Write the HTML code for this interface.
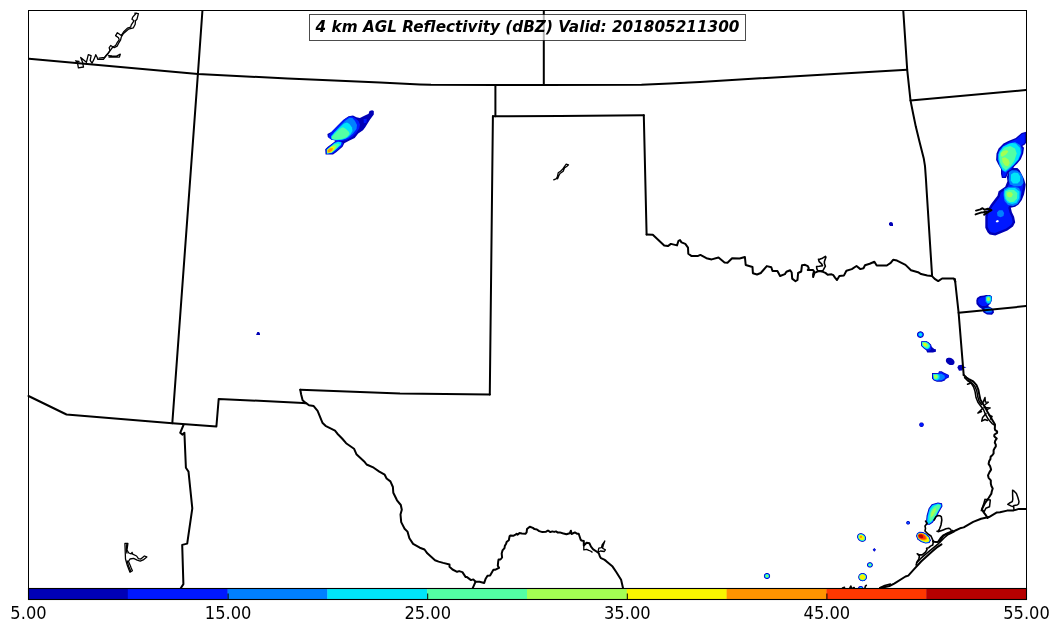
<!DOCTYPE html>
<html><head><meta charset="utf-8"><title>4 km AGL Reflectivity</title>
<style>html,body{margin:0;padding:0;background:#fff;overflow:hidden}svg{display:block}</style>
</head><body>
<svg width="1060" height="633" viewBox="0 0 1060 633">
<rect width="1060" height="633" fill="#fff"/>
<g id="radar">
<path d="M372.1,110.2 369.5,111.1 368.6,113.7 363.4,116.3 359.9,118.0 356.5,117.2 353.0,115.4 348.6,116.3 343.4,119.8 337.4,125.8 331.3,131.9 327.4,134.1 327.8,137.1 331.3,139.7 335.6,140.6 333.9,142.3 327.8,146.7 325.2,149.3 325.6,154.5 333.0,154.5 336.5,151.9 342.6,146.7 344.3,143.2 349.5,140.6 354.7,138.0 358.2,133.6 363.0,130.2 365.1,127.6 368.2,122.4 369.9,119.8 373.8,114.5 373.8,111.1Z" fill="#0000b6" fill-rule="evenodd"/>
<path d="M335.4,141.2 336.6,141.2 334.1,142.4 333.5,142.9 329.0,146.5 326.0,149.5 326.5,154.0 333.0,153.5 337.0,150.5 342.0,146.0 343.0,143.0 341.0,141.5 338.6,141.2 341.0,141.2 346.5,140.0 352.0,137.0 356.5,132.5 359.2,128.5 360.0,124.5 358.5,121.0 355.0,118.0 352.0,116.3 348.5,116.8 343.6,120.0 329.0,134.5 328.4,137.2 331.4,139.5 335.7,140.4 335.8,140.7ZM363.8,123.2 366.5,122.8 366.8,118.8 363.6,119.0Z" fill="#0018ff" fill-rule="evenodd"/>
<path d="M331.5,139.3 336.0,140.3 343.0,139.8 348.5,137.5 353.0,133.5 356.5,129.0 357.0,125.0 355.0,121.0 352.5,118.0 349.5,117.8 345.5,120.5 340.5,125.5 331.0,136.0Z" fill="#0080ff" fill-rule="evenodd"/>
<path d="M345.8,138.4 350.0,135.0 352.5,131.0 352.0,127.5 349.5,124.0 347.0,122.5 344.0,123.5 339.5,127.5 334.5,132.5 331.3,136.5 331.7,139.1 336.0,140.0 341.1,139.7Z" fill="#00e4f8" fill-rule="evenodd"/>
<path d="M342.0,139.0 347.0,137.0 349.5,134.0 349.0,132.0 346.0,129.0 343.0,127.2 341.0,128.0 337.0,131.5 333.0,135.5 331.7,137.1 331.9,138.9 336.0,139.8Z" fill="#53ffa4" fill-rule="evenodd"/>
<path d="M326.8,153.7 332.0,152.8 336.0,149.5 341.0,145.0 341.5,142.2 338.0,141.8 334.5,143.0 330.0,147.0 326.8,149.5Z" fill="#00e4f8" fill-rule="evenodd"/>
<path d="M336.0,148.8 339.8,144.5 338.0,143.5 334.5,144.2 331.3,146.2 327.1,149.6 327.1,153.4 331.7,152.6Z" fill="#53ffa4" fill-rule="evenodd"/>
<path d="M335.0,149.0 336.5,145.8 333.5,145.6 332.0,146.1 327.3,149.7 327.3,153.1 331.5,152.4Z" fill="#a4ff53" fill-rule="evenodd"/>
<path d="M334.8,147.4 332.0,146.8 331.2,147.0 327.6,149.9 327.6,152.8 331.4,152.1 333.8,149.8Z" fill="#f8f500" fill-rule="evenodd"/>
<path d="M332.2,150.5 333.0,148.3 330.1,148.2 327.8,150.0 327.8,152.5 330.0,152.1Z" fill="#ff9400" fill-rule="evenodd"/>
<path d="M256.1,335.0 260.0,335.0 260.0,333.5 259.0,332.0 257.3,332.0Z" fill="#0000b6" fill-rule="evenodd"/>
<path d="M889.0,223.0 889.0,224.5 890.0,226.0 893.0,226.0 893.0,223.5 892.0,222.3 890.5,221.9Z" fill="#0000b6" fill-rule="evenodd"/>
<path d="M1021.6,132.9 1015.8,137.9 1008.4,141.1 1003.5,143.6 998.6,148.5 996.5,153.5 996.1,160.0 998.2,164.2 1001.0,169.1 1001.0,174.0 1001.9,178.1 1006.0,178.1 1008.4,172.4 1008.5,172.4 1008.5,172.4 1006.9,176.8 1007.4,181.3 1005.2,186.8 1001.9,189.0 998.6,191.2 997.5,195.7 994.2,200.1 990.8,204.5 987.5,210.0 985.3,215.6 985.3,227.7 987.5,232.2 989.7,234.4 995.3,235.5 1000.8,233.3 1007.4,230.5 1013.0,226.6 1015.2,222.2 1014.1,216.7 1011.9,212.2 1010.8,207.8 1015.2,206.7 1018.5,204.5 1021.8,200.1 1024.0,194.5 1025.1,189.0 1025.7,184.6 1024.0,179.1 1021.8,174.6 1019.6,170.2 1017.4,168.0 1013.3,168.0 1014.2,166.6 1017.5,163.3 1020.8,159.2 1023.2,153.5 1024.0,147.7 1022.4,146.1 1024.9,144.4 1026.1,142.8 1026.1,131.7Z" fill="#0000b6" fill-rule="evenodd"/>
<path d="M1016.6,138.9 1009.0,142.3 1004.3,144.7 999.7,149.2 997.8,153.8 997.4,159.7 999.3,163.6 1002.2,168.7 1002.3,173.9 1002.9,176.8 1005.1,176.8 1007.4,171.6 1007.8,171.2 1010.8,169.7 1013.2,165.8 1016.5,162.4 1019.7,158.5 1021.9,153.2 1022.6,148.2 1021.3,146.8 1021.1,146.4 1021.2,145.7 1021.6,145.1 1024.0,143.4 1024.8,142.4 1024.8,133.4 1022.2,134.1ZM1010.9,172.1 1010.8,173.0 1009.3,177.1 1009.8,181.0 1009.8,181.7 1007.3,187.9 1006.5,188.8 1000.7,192.7 999.8,196.3 999.6,196.9 992.8,205.9 989.7,211.1 987.7,216.1 987.7,227.1 989.5,230.8 990.9,232.2 995.1,233.0 1006.2,228.4 1011.1,225.0 1012.7,221.9 1011.8,217.5 1009.6,212.8 1008.4,208.2 1008.5,207.2 1008.9,206.4 1009.6,205.7 1010.2,205.5 1014.2,204.5 1016.8,202.7 1019.7,198.9 1021.7,193.8 1022.7,188.6 1023.3,184.8 1021.8,180.0 1017.6,171.6 1016.4,170.4 1010.5,170.4Z" fill="#0018ff" fill-rule="evenodd"/>
<path d="M999.0,152.0 998.2,155.0 998.2,160.0 999.5,166.0 1002.5,170.5 1005.5,172.5 1009.0,169.5 1014.0,164.8 1018.5,159.5 1021.0,154.0 1021.5,149.0 1020.0,145.0 1015.0,142.0 1009.0,143.5 1003.0,146.5Z" fill="#0080ff" fill-rule="evenodd"/>
<path d="M999.7,151.4 998.6,154.5 998.6,159.2 1000.2,165.0 1002.7,169.9 1005.1,171.5 1008.4,169.1 1013.4,165.0 1018.3,159.2 1020.8,152.7 1019.9,147.7 1015.8,143.6 1012.1,143.0 1009.1,143.7 1003.2,146.7Z" fill="#00e4f8" fill-rule="evenodd"/>
<path d="M999.4,156.8 1000.2,162.5 1002.7,167.4 1005.9,169.9 1010.1,166.6 1014.2,160.9 1016.7,153.5 1015.0,148.5 1010.1,146.1 1004.3,147.7 1000.2,152.7Z" fill="#53ffa4" fill-rule="evenodd"/>
<path d="M1001.0,156.0 1002.5,156.8 1006.0,154.5 1008.4,151.5 1007.0,150.2 1003.5,150.8 1001.0,153.0ZM1002.5,162.0 1005.0,165.5 1008.0,166.3 1009.7,163.0 1008.5,159.5 1005.0,157.3 1002.0,158.0Z" fill="#a4ff53" fill-rule="evenodd"/>
<path d="M1009.0,172.0 1009.0,175.5 1008.6,180.0 1010.0,184.5 1015.0,186.5 1021.0,186.0 1023.5,183.0 1023.0,178.0 1021.0,173.5 1017.0,170.5 1012.0,170.3Z" fill="#0080ff" fill-rule="evenodd"/>
<path d="M1010.8,180.5 1013.0,183.5 1017.5,183.5 1020.0,181.0 1020.2,176.5 1018.0,173.0 1014.0,172.5 1011.0,174.5Z" fill="#00e4f8" fill-rule="evenodd"/>
<path d="M1004.0,189.0 1003.5,195.0 1004.5,201.0 1008.0,205.0 1013.0,206.0 1017.5,204.0 1020.5,199.0 1021.0,192.0 1019.0,188.0 1014.0,186.5 1008.0,187.0Z" fill="#0080ff" fill-rule="evenodd"/>
<path d="M1004.2,194.0 1004.8,198.5 1007.5,202.5 1012.0,204.0 1016.5,202.8 1019.3,198.0 1019.5,191.5 1015.0,188.0 1009.0,188.0 1004.6,190.5Z" fill="#00e4f8" fill-rule="evenodd"/>
<path d="M1005.3,196.0 1006.8,200.0 1010.0,202.3 1014.0,201.8 1017.0,198.5 1017.4,193.0 1014.0,190.0 1009.0,189.8 1005.4,191.5Z" fill="#53ffa4" fill-rule="evenodd"/>
<path d="M1006.8,195.0 1007.8,196.8 1009.8,197.6 1011.8,196.8 1012.8,194.5 1011.8,192.4 1009.3,191.8 1006.8,192.8Z" fill="#a4ff53" fill-rule="evenodd"/>
<path d="M997.0,212.5 997.5,216.0 1000.5,217.2 1003.5,216.0 1004.1,213.0 1002.5,210.3 999.0,210.2Z" fill="#0080ff" fill-rule="evenodd"/>
<path d="M995.8,221 L997.5,220 L999.1,221 L998,222.2 L996,222.2Z" fill="#fff"/>
<path d="M977.0,298.0 976.3,300.5 976.5,304.0 979.0,307.0 982.0,309.0 983.5,312.5 987.0,314.5 992.0,314.7 994.0,312.5 993.5,309.5 991.0,307.5 988.0,306.0 990.5,303.5 992.0,300.0 992.0,296.5 990.0,295.0 986.0,295.0 984.0,295.5 980.0,296.0Z" fill="#0000b6" fill-rule="evenodd"/>
<path d="M978.0,301.5 979.0,304.0 982.0,306.0 985.5,306.0 988.0,304.5 990.5,301.0 990.5,297.5 988.0,296.5 981.0,297.5 978.5,299.0ZM984.5,311.5 987.5,313.2 991.0,313.5 992.5,311.5 991.5,309.0 988.0,307.5 984.0,309.0Z" fill="#0018ff" fill-rule="evenodd"/>
<path d="M985.5,296.5 985.5,301.5 987.5,304.0 990.5,303.5 991.8,300.0 991.5,296.0 988.0,295.5Z" fill="#0080ff" fill-rule="evenodd"/>
<path d="M986.0,300.5 987.5,303.0 989.8,302.8 991.2,300.0 991.0,296.8 988.5,296.0 986.0,297.0Z" fill="#00e4f8" fill-rule="evenodd"/>
<path d="M990.4,299.0 990.2,298.2 989.7,297.5 989.1,297.1 988.3,297.0 987.6,297.3 987.0,297.8 986.6,298.8 986.6,299.6 986.9,300.4 987.4,301.0 987.9,301.3 988.7,301.4 989.4,301.1 990.0,300.6 990.3,299.8Z" fill="#53ffa4" fill-rule="evenodd"/>
<path d="M989.9,298.8 989.7,298.2 989.4,297.7 988.9,297.4 988.2,297.3 987.7,297.6 987.3,298.1 987.1,298.7 987.2,299.5 987.4,300.1 987.8,300.5 988.4,300.7 988.8,300.7 989.2,300.5 989.6,300.1 989.8,299.5Z" fill="#a4ff53" fill-rule="evenodd"/>
<path d="M984.5,308.3 985.0,310.5 986.0,312.5 991.5,312.3 992.0,309.5 990.5,307.8Z" fill="#0080ff" fill-rule="evenodd"/>
<path d="M923.8,334.6 923.8,334.3 923.7,334.0 923.7,333.6 923.5,333.3 923.4,333.0 923.2,332.8 923.0,332.5 922.8,332.3 922.6,332.0 922.3,331.9 922.0,331.7 921.7,331.6 921.4,331.4 921.1,331.4 920.7,331.3 920.4,331.3 920.1,331.3 919.7,331.4 919.4,331.4 919.1,331.6 918.8,331.7 918.5,331.9 918.2,332.0 918.0,332.3 917.8,332.5 917.6,332.8 917.4,333.0 917.3,333.3 917.1,333.6 917.1,334.0 917.0,334.3 917.0,334.6 917.0,334.9 917.1,335.2 917.1,335.6 917.3,335.9 917.4,336.2 917.6,336.4 917.8,336.7 918.0,336.9 918.2,337.2 918.5,337.3 918.8,337.5 919.1,337.6 919.4,337.8 919.7,337.8 920.1,337.9 920.4,337.9 920.7,337.9 921.1,337.8 921.4,337.8 921.7,337.6 922.0,337.5 922.3,337.3 922.6,337.2 922.8,336.9 923.0,336.7 923.2,336.4 923.4,336.2 923.5,335.9 923.7,335.6 923.7,335.2 923.8,334.9Z" fill="#0000b6" fill-rule="evenodd"/>
<path d="M923.2,334.3 922.9,333.3 922.2,332.5 921.2,332.0 920.1,331.9 919.1,332.2 918.2,332.9 917.7,333.8 917.6,334.9 917.9,335.9 918.6,336.7 919.6,337.2 920.7,337.3 921.7,337.0 922.6,336.3 923.1,335.4Z" fill="#0018ff" fill-rule="evenodd"/>
<path d="M922.6,334.4 922.3,333.6 921.8,333.0 921.0,332.6 920.2,332.5 919.4,332.8 918.7,333.3 918.3,334.0 918.2,334.8 918.5,335.6 919.0,336.2 919.8,336.6 920.6,336.7 921.4,336.4 922.1,335.9 922.5,335.2Z" fill="#0080ff" fill-rule="evenodd"/>
<path d="M922.1,334.4 921.9,333.9 921.5,333.4 920.9,333.1 920.2,333.0 919.6,333.2 919.1,333.6 918.8,334.1 918.7,334.8 918.9,335.3 919.3,335.8 919.9,336.1 920.6,336.2 921.2,336.0 921.7,335.6 922.0,335.1Z" fill="#00e4f8" fill-rule="evenodd"/>
<path d="M921.2,341.3 921.0,343.6 921.2,346.0 923.8,348.4 926.2,350.3 927.2,352.6 932.9,352.6 935.9,351.7 935.9,349.3 934.3,348.9 931.9,347.0 931.0,344.6 928.6,342.2 926.2,341.0Z" fill="#0000b6" fill-rule="evenodd"/>
<path d="M921.6,345.6 924.0,348.0 926.8,350.0 928.5,351.0 931.0,349.8 931.2,347.3 930.5,345.0 928.4,342.8 926.0,341.5 921.5,341.8Z" fill="#0018ff" fill-rule="evenodd"/>
<path d="M922.0,345.6 924.5,348.0 927.0,349.3 929.5,348.3 930.2,345.5 929.1,343.9 928.2,343.0 925.9,341.8 921.8,342.0Z" fill="#00e4f8" fill-rule="evenodd"/>
<path d="M923.2,346.2 925.8,347.8 928.0,348.0 929.2,346.0 928.0,343.6 925.5,342.2 922.0,342.4Z" fill="#53ffa4" fill-rule="evenodd"/>
<path d="M923.8,345.6 926.0,347.0 927.8,346.3 927.3,344.2 925.3,342.8 922.4,342.8Z" fill="#a4ff53" fill-rule="evenodd"/>
<path d="M926.3,344.5 925.9,343.7 925.4,343.4 924.9,343.3 924.0,343.6 923.7,344.0 923.5,344.5 924.0,345.4 924.9,345.9 925.4,345.8 926.0,345.4 926.2,345.0Z" fill="#f8f500" fill-rule="evenodd"/>
<path d="M954.2,363.7 954.3,363.4 954.4,363.1 954.5,362.7 954.5,362.4 954.5,362.0 954.5,361.7 954.4,361.3 954.2,360.9 954.0,360.6 953.8,360.2 953.6,359.9 953.3,359.6 953.0,359.2 952.6,359.0 952.3,358.7 951.9,358.5 951.5,358.2 951.1,358.1 950.7,357.9 950.2,357.8 949.8,357.7 949.4,357.7 949.0,357.7 948.6,357.7 948.2,357.8 947.8,357.9 947.5,358.0 947.2,358.1 946.9,358.3 946.6,358.6 946.4,358.8 946.2,359.1 946.1,359.4 946.0,359.7 945.9,360.1 945.9,360.4 945.9,360.8 945.9,361.1 946.0,361.5 946.2,361.9 946.4,362.2 946.6,362.6 946.8,362.9 947.1,363.2 947.4,363.6 947.8,363.8 948.1,364.1 948.5,364.3 948.9,364.6 949.3,364.7 949.7,364.9 950.2,365.0 950.6,365.1 951.0,365.1 951.4,365.1 951.8,365.1 952.2,365.0 952.6,364.9 952.9,364.8 953.2,364.7 953.5,364.5 953.8,364.2 954.0,364.0Z" fill="#0000b6" fill-rule="evenodd"/>
<path d="M957.3,367.5 959.0,370.8 962.0,370.5 963.5,368.2 966.5,367.2 963.5,366.5 961.5,364.8 958.5,365.3Z" fill="#0000b6" fill-rule="evenodd"/>
<path d="M932.0,373.1 932.0,378.6 933.8,380.4 937.0,381.7 941.6,381.7 944.8,380.4 945.8,379.1 948.9,377.5 948.9,374.9 946.9,373.9 943.7,372.6 941.6,371.3 939.0,371.3 938.3,372.9Z" fill="#0000b6" fill-rule="evenodd"/>
<path d="M932.6,378.4 934.1,379.9 937.1,381.1 941.5,381.1 944.4,379.9 945.4,378.6 948.3,377.1 948.3,375.3 946.7,374.4 943.5,373.2 941.4,371.9 939.4,371.9 938.8,373.2 938.4,373.5 932.6,373.7Z" fill="#0018ff" fill-rule="evenodd"/>
<path d="M933.4,378.8 934.3,379.7 937.0,380.6 942.0,380.0 945.0,378.0 944.5,375.5 941.5,373.8 932.9,374.0Z" fill="#0080ff" fill-rule="evenodd"/>
<path d="M937.0,380.3 939.5,378.5 939.5,375.5 937.7,374.1 933.1,374.2 933.7,378.7 934.4,379.5Z" fill="#00e4f8" fill-rule="evenodd"/>
<path d="M933.5,374.6 934.0,378.7 935.5,379.3 938.0,378.3 938.3,376.0 937.0,374.5Z" fill="#53ffa4" fill-rule="evenodd"/>
<path d="M933.8,375.0 934.1,377.9 934.8,378.6 936.8,378.2 937.3,376.5 936.5,375.0Z" fill="#a4ff53" fill-rule="evenodd"/>
<path d="M923.8,424.7 923.8,424.5 923.8,424.3 923.7,424.0 923.6,423.8 923.5,423.6 923.4,423.4 923.3,423.2 923.1,423.1 923.0,422.9 922.8,422.8 922.6,422.7 922.4,422.6 922.2,422.5 921.9,422.4 921.7,422.4 921.5,422.4 921.3,422.4 921.1,422.4 920.8,422.5 920.6,422.6 920.4,422.7 920.2,422.8 920.0,422.9 919.9,423.1 919.7,423.2 919.6,423.4 919.5,423.6 919.4,423.8 919.3,424.0 919.2,424.3 919.2,424.5 919.2,424.7 919.2,424.9 919.2,425.1 919.3,425.4 919.4,425.6 919.5,425.8 919.6,426.0 919.7,426.2 919.9,426.3 920.0,426.5 920.2,426.6 920.4,426.7 920.6,426.8 920.8,426.9 921.1,427.0 921.3,427.0 921.5,427.0 921.7,427.0 921.9,427.0 922.2,426.9 922.4,426.8 922.6,426.7 922.8,426.6 923.0,426.5 923.1,426.3 923.3,426.2 923.4,426.0 923.5,425.8 923.6,425.6 923.7,425.4 923.8,425.1 923.8,424.9Z" fill="#0000b6" fill-rule="evenodd"/>
<path d="M923.3,424.5 923.1,423.9 922.6,423.3 922.0,423.0 921.3,422.9 920.7,423.1 920.1,423.6 919.8,424.2 919.7,424.9 919.9,425.5 920.4,426.1 921.0,426.4 921.7,426.5 922.3,426.3 922.9,425.8 923.2,425.2Z" fill="#0018ff" fill-rule="evenodd"/>
<path d="M910.0,522.8 910.0,522.6 910.0,522.4 909.9,522.3 909.9,522.1 909.8,522.0 909.7,521.8 909.6,521.7 909.4,521.5 909.3,521.4 909.2,521.3 909.0,521.2 908.8,521.1 908.7,521.1 908.5,521.0 908.3,521.0 908.1,521.0 907.9,521.0 907.7,521.0 907.5,521.1 907.4,521.1 907.2,521.2 907.0,521.3 906.9,521.4 906.8,521.5 906.6,521.7 906.5,521.8 906.4,522.0 906.3,522.1 906.3,522.3 906.2,522.4 906.2,522.6 906.2,522.8 906.2,523.0 906.2,523.2 906.3,523.3 906.3,523.5 906.4,523.6 906.5,523.8 906.6,523.9 906.8,524.1 906.9,524.2 907.0,524.3 907.2,524.4 907.4,524.5 907.5,524.5 907.7,524.6 907.9,524.6 908.1,524.6 908.3,524.6 908.5,524.6 908.7,524.5 908.8,524.5 909.0,524.4 909.2,524.3 909.3,524.2 909.4,524.1 909.6,523.9 909.7,523.8 909.8,523.6 909.9,523.5 909.9,523.3 910.0,523.2 910.0,523.0Z" fill="#0000b6" fill-rule="evenodd"/>
<path d="M909.5,522.7 909.3,522.2 909.0,521.8 908.5,521.6 908.0,521.5 907.4,521.7 907.0,522.0 906.8,522.4 906.7,522.9 906.9,523.4 907.2,523.8 907.7,524.0 908.2,524.1 908.8,523.9 909.2,523.6 909.4,523.2Z" fill="#0018ff" fill-rule="evenodd"/>
<path d="M908.9,522.7 908.6,522.3 908.0,522.1 907.5,522.4 907.3,522.9 907.6,523.3 908.2,523.5 908.7,523.2Z" fill="#0080ff" fill-rule="evenodd"/>
<path d="M942.0,503.2 937.9,502.4 931.7,504.2 928.6,508.4 926.6,515.6 926.1,520.7 925.6,523.3 927.1,524.8 929.7,524.8 932.7,522.7 935.8,518.6 938.9,512.5 942.5,506.3Z" fill="#0000b6" fill-rule="evenodd"/>
<path d="M937.9,503.0 932.1,504.7 929.1,508.7 927.2,515.7 926.7,520.8 926.2,523.1 927.3,524.2 929.5,524.2 932.3,522.3 935.3,518.3 938.4,512.2 941.9,506.2 941.5,503.7Z" fill="#0018ff" fill-rule="evenodd"/>
<path d="M937.9,503.4 932.3,505.1 929.5,508.8 927.6,515.8 927.1,520.8 926.7,523.0 927.5,523.8 929.4,523.8 932.0,522.0 934.9,518.1 938.0,512.0 941.5,506.1 941.1,504.0Z" fill="#0080ff" fill-rule="evenodd"/>
<path d="M938.0,503.8 932.5,505.4 929.9,509.0 928.0,515.9 927.5,520.8 927.1,522.8 927.7,523.4 929.3,523.4 931.7,521.7 934.6,517.9 937.7,511.9 941.0,506.0 940.8,504.4Z" fill="#00e4f8" fill-rule="evenodd"/>
<path d="M930.5,521.8 933.0,519.2 935.1,516.3 937.4,511.8 939.8,507.7 940.6,505.2 938.0,504.6 934.0,506.5 931.2,510.0 929.6,515.0 929.3,520.5Z" fill="#53ffa4" fill-rule="evenodd"/>
<path d="M933.2,515.5 935.6,511.0 936.0,507.8 933.4,509.3 931.4,512.5 930.6,517.5Z" fill="#a4ff53" fill-rule="evenodd"/>
<path d="M916.0,536.0 917.5,539.5 921.0,542.0 925.5,543.6 929.5,543.0 930.8,540.2 929.5,536.8 926.5,533.8 923.0,532.0 919.5,531.8 917.0,533.2Z" fill="#0000b6" fill-rule="evenodd"/>
<path d="M917.9,539.2 921.2,541.6 925.5,543.1 929.2,542.5 930.3,540.2 929.1,537.1 926.2,534.2 922.9,532.5 919.6,532.3 917.4,533.5 916.5,536.0Z" fill="#0018ff" fill-rule="evenodd"/>
<path d="M918.2,538.9 921.4,541.2 925.6,542.7 928.9,542.2 929.8,540.2 928.7,537.3 926.0,534.5 922.8,532.9 919.7,532.7 917.7,533.8 917.0,536.0Z" fill="#00e4f8" fill-rule="evenodd"/>
<path d="M918.6,538.7 921.6,540.8 925.6,542.3 928.6,541.8 929.4,540.2 928.4,537.5 925.7,534.9 922.7,533.3 919.8,533.1 918.1,534.1 917.4,536.0Z" fill="#f8f500" fill-rule="evenodd"/>
<path d="M921.5,540.0 925.0,540.5 927.2,539.0 926.5,536.5 924.5,534.5 922.6,533.5 919.9,533.4 918.3,534.3 917.7,535.9 918.7,538.4Z" fill="#ff9400" fill-rule="evenodd"/>
<path d="M921.0,539.0 924.0,539.6 925.8,538.8 925.6,536.8 923.5,534.5 921.3,533.7 919.8,533.7 918.5,534.4 917.9,535.9 918.7,537.8Z" fill="#ff3800" fill-rule="evenodd"/>
<path d="M919.3,537.2 921.5,538.3 923.2,537.8 923.0,535.8 921.5,534.5 919.5,534.4 918.5,535.2 918.4,535.4Z" fill="#b60000" fill-rule="evenodd"/>
<path d="M770.1,576.0 770.1,575.7 770.0,575.4 770.0,575.1 769.9,574.9 769.7,574.6 769.6,574.3 769.4,574.1 769.2,573.9 769.0,573.7 768.7,573.5 768.5,573.4 768.2,573.2 767.9,573.1 767.6,573.1 767.3,573.0 767.0,573.0 766.7,573.0 766.4,573.1 766.1,573.1 765.8,573.2 765.5,573.4 765.3,573.5 765.0,573.7 764.8,573.9 764.6,574.1 764.4,574.3 764.3,574.6 764.1,574.9 764.0,575.1 764.0,575.4 763.9,575.7 763.9,576.0 763.9,576.3 764.0,576.6 764.0,576.9 764.1,577.1 764.3,577.4 764.4,577.7 764.6,577.9 764.8,578.1 765.0,578.3 765.3,578.5 765.5,578.6 765.8,578.8 766.1,578.9 766.4,578.9 766.7,579.0 767.0,579.0 767.3,579.0 767.6,578.9 767.9,578.9 768.2,578.8 768.5,578.6 768.7,578.5 769.0,578.3 769.2,578.1 769.4,577.9 769.6,577.7 769.7,577.4 769.9,577.1 770.0,576.9 770.0,576.6 770.1,576.3Z" fill="#0000b6" fill-rule="evenodd"/>
<path d="M769.6,575.8 769.3,574.8 768.7,574.1 767.8,573.6 766.7,573.5 765.8,573.8 765.0,574.4 764.5,575.3 764.4,576.2 764.7,577.2 765.3,577.9 766.2,578.4 767.3,578.5 768.2,578.2 769.0,577.6 769.5,576.7Z" fill="#0018ff" fill-rule="evenodd"/>
<path d="M769.2,575.8 768.9,575.0 768.4,574.4 767.6,574.0 766.8,573.9 766.0,574.2 765.3,574.7 764.9,575.4 764.8,576.2 765.1,577.0 765.6,577.6 766.4,578.0 767.2,578.1 768.0,577.8 768.7,577.3 769.1,576.6Z" fill="#00e4f8" fill-rule="evenodd"/>
<path d="M768.6,575.9 768.4,575.3 768.0,574.9 767.5,574.6 766.8,574.5 766.2,574.7 765.7,575.1 765.5,575.6 765.4,576.1 765.6,576.7 766.0,577.1 766.5,577.4 767.2,577.5 767.8,577.3 768.3,576.9 768.5,576.4Z" fill="#53ffa4" fill-rule="evenodd"/>
<path d="M768.0,575.9 767.7,575.3 766.9,575.1 766.2,575.5 766.0,576.1 766.3,576.7 767.1,576.9 767.8,576.5Z" fill="#a4ff53" fill-rule="evenodd"/>
<path d="M865.3,540.6 865.5,540.3 865.7,539.9 865.8,539.6 866.0,539.2 866.0,538.8 866.1,538.4 866.0,538.0 866.0,537.6 865.9,537.1 865.7,536.7 865.5,536.3 865.3,535.9 865.1,535.5 864.8,535.2 864.5,534.8 864.1,534.5 863.7,534.2 863.3,534.0 862.9,533.7 862.5,533.6 862.1,533.4 861.6,533.3 861.2,533.2 860.8,533.2 860.3,533.2 859.9,533.3 859.5,533.4 859.2,533.5 858.8,533.7 858.5,533.9 858.2,534.1 857.9,534.4 857.7,534.7 857.5,535.1 857.4,535.4 857.2,535.8 857.2,536.2 857.1,536.6 857.2,537.0 857.2,537.4 857.3,537.9 857.5,538.3 857.7,538.7 857.9,539.1 858.1,539.5 858.4,539.8 858.7,540.2 859.1,540.5 859.5,540.8 859.9,541.0 860.3,541.3 860.7,541.4 861.1,541.6 861.6,541.7 862.0,541.8 862.4,541.8 862.9,541.8 863.3,541.7 863.7,541.6 864.0,541.5 864.4,541.3 864.7,541.1 865.0,540.9Z" fill="#0000b6" fill-rule="evenodd"/>
<path d="M865.2,540.1 865.6,538.8 865.5,537.3 864.7,535.8 863.8,534.8 862.4,533.9 860.8,533.6 859.3,533.9 858.7,534.2 858.2,534.7 857.9,535.2 857.6,535.9 857.6,537.4 858.2,538.9 859.4,540.2 860.8,541.1 862.4,541.4 863.9,541.1 864.5,540.8Z" fill="#0018ff" fill-rule="evenodd"/>
<path d="M864.8,539.8 865.2,538.7 865.1,537.4 864.4,536.0 863.6,535.1 862.2,534.3 860.8,534.0 859.5,534.2 858.5,534.9 858.0,536.0 858.0,537.3 858.6,538.7 859.6,539.9 861.0,540.7 862.4,541.0 863.7,540.8 864.2,540.5Z" fill="#00e4f8" fill-rule="evenodd"/>
<path d="M864.5,539.6 864.8,538.7 864.7,537.5 864.1,536.2 863.3,535.4 862.1,534.7 860.8,534.4 859.6,534.6 858.8,535.2 858.4,536.1 858.4,537.2 858.9,538.5 859.9,539.6 861.1,540.3 862.4,540.6 863.6,540.4 864.0,540.1Z" fill="#53ffa4" fill-rule="evenodd"/>
<path d="M864.2,539.4 864.4,538.6 864.3,537.6 863.8,536.5 863.1,535.7 862.2,535.2 861.0,534.8 860.0,534.9 859.2,535.4 858.8,536.4 858.9,537.4 859.4,538.5 860.1,539.3 861.3,539.9 862.5,540.2 863.4,540.0Z" fill="#a4ff53" fill-rule="evenodd"/>
<path d="M863.6,539.0 863.9,538.2 864.0,537.4 863.6,536.6 862.9,535.9 862.1,535.4 861.0,535.1 860.1,535.1 859.4,535.6 859.0,536.4 859.1,537.3 859.6,538.4 860.3,539.1 861.4,539.7 862.2,539.9 863.1,539.5Z" fill="#f8f500" fill-rule="evenodd"/>
<path d="M862.1,536.8 862.0,536.4 861.7,536.0 861.2,535.8 860.8,535.8 860.3,535.9 860.0,536.2 859.8,536.6 859.7,537.0 859.8,537.4 860.1,537.8 860.6,538.0 861.0,538.0 861.5,537.9 861.8,537.6 862.0,537.2Z" fill="#ff9400" fill-rule="evenodd"/>
<path d="M874.3,547.9 872.7,549.8 874.3,551.8 876.0,549.8Z" fill="#0000b6" fill-rule="evenodd"/>
<path d="M873.3,549.8 874.3,551.1 875.4,549.8 874.3,548.6Z" fill="#0018ff" fill-rule="evenodd"/>
<path d="M872.8,564.9 872.8,564.6 872.7,564.4 872.7,564.1 872.6,563.9 872.5,563.6 872.3,563.4 872.1,563.2 872.0,563.0 871.7,562.8 871.5,562.7 871.3,562.5 871.0,562.4 870.7,562.3 870.5,562.3 870.2,562.2 869.9,562.2 869.6,562.2 869.3,562.3 869.1,562.3 868.8,562.4 868.5,562.5 868.3,562.7 868.1,562.8 867.8,563.0 867.7,563.2 867.5,563.4 867.3,563.6 867.2,563.9 867.1,564.1 867.1,564.4 867.0,564.6 867.0,564.9 867.0,565.2 867.1,565.4 867.1,565.7 867.2,565.9 867.3,566.2 867.5,566.4 867.7,566.6 867.8,566.8 868.1,567.0 868.3,567.1 868.5,567.3 868.8,567.4 869.1,567.5 869.3,567.5 869.6,567.6 869.9,567.6 870.2,567.6 870.5,567.5 870.7,567.5 871.0,567.4 871.3,567.3 871.5,567.1 871.7,567.0 872.0,566.8 872.1,566.6 872.3,566.4 872.5,566.2 872.6,565.9 872.7,565.7 872.7,565.4 872.8,565.2Z" fill="#0000b6" fill-rule="evenodd"/>
<path d="M872.3,564.7 872.0,563.9 871.4,563.2 870.6,562.8 869.7,562.7 868.8,563.0 868.0,563.5 867.6,564.3 867.5,565.1 867.8,565.9 868.4,566.6 869.2,567.0 870.1,567.1 871.0,566.8 871.8,566.3 872.2,565.5Z" fill="#0018ff" fill-rule="evenodd"/>
<path d="M871.8,564.7 871.6,564.1 871.1,563.6 870.5,563.3 869.7,563.2 869.0,563.4 868.4,563.8 868.1,564.4 868.0,565.1 868.2,565.7 868.7,566.2 869.3,566.5 870.1,566.6 870.8,566.4 871.4,566.0 871.7,565.4Z" fill="#00e4f8" fill-rule="evenodd"/>
<path d="M871.3,564.8 871.2,564.4 870.8,564.0 870.3,563.8 869.8,563.7 869.2,563.9 868.8,564.2 868.6,564.6 868.5,565.0 868.6,565.4 869.0,565.8 869.5,566.0 870.0,566.1 870.6,565.9 871.0,565.6 871.2,565.2Z" fill="#53ffa4" fill-rule="evenodd"/>
<path d="M870.8,564.8 870.5,564.4 869.9,564.2 869.3,564.4 869.0,564.9 869.3,565.4 869.9,565.6 870.5,565.4 870.7,565.1Z" fill="#a4ff53" fill-rule="evenodd"/>
<path d="M866.9,577.1 866.9,576.7 866.8,576.3 866.7,575.9 866.6,575.5 866.4,575.2 866.2,574.8 865.9,574.5 865.6,574.2 865.3,573.9 865.0,573.7 864.6,573.5 864.2,573.3 863.8,573.2 863.4,573.1 863.0,573.0 862.6,573.0 862.2,573.0 861.8,573.1 861.4,573.2 861.0,573.3 860.6,573.5 860.2,573.7 859.9,573.9 859.6,574.2 859.3,574.5 859.0,574.8 858.8,575.2 858.6,575.5 858.5,575.9 858.4,576.3 858.3,576.7 858.3,577.1 858.3,577.5 858.4,577.9 858.5,578.3 858.6,578.7 858.8,579.0 859.0,579.4 859.3,579.7 859.6,580.0 859.9,580.3 860.2,580.5 860.6,580.7 861.0,580.9 861.4,581.0 861.8,581.1 862.2,581.2 862.6,581.2 863.0,581.2 863.4,581.1 863.8,581.0 864.2,580.9 864.6,580.7 865.0,580.5 865.3,580.3 865.6,580.0 865.9,579.7 866.2,579.4 866.4,579.0 866.6,578.7 866.7,578.3 866.8,577.9 866.9,577.5Z" fill="#0000b6" fill-rule="evenodd"/>
<path d="M866.5,576.7 866.1,575.3 865.1,574.2 863.8,573.5 862.2,573.4 860.7,573.8 859.5,574.7 858.8,576.0 858.7,577.5 859.1,578.9 860.1,580.0 861.4,580.7 863.0,580.8 864.5,580.4 865.7,579.5 866.4,578.2Z" fill="#0018ff" fill-rule="evenodd"/>
<path d="M866.1,576.8 865.7,575.5 864.9,574.5 863.6,573.9 862.2,573.8 860.9,574.2 859.8,575.0 859.2,576.1 859.1,577.4 859.5,578.7 860.3,579.7 861.6,580.3 863.0,580.4 864.3,580.0 865.4,579.2 866.0,578.1Z" fill="#00e4f8" fill-rule="evenodd"/>
<path d="M865.6,576.8 865.3,575.8 864.5,575.0 863.5,574.4 862.3,574.3 861.2,574.6 860.3,575.3 859.7,576.3 859.6,577.4 859.9,578.4 860.7,579.2 861.7,579.8 862.9,579.9 864.0,579.6 864.9,578.9 865.5,577.9Z" fill="#a4ff53" fill-rule="evenodd"/>
<path d="M865.3,576.9 865.0,576.0 864.3,575.2 863.4,574.7 862.3,574.6 861.3,574.9 860.5,575.5 860.0,576.4 859.9,577.3 860.2,578.2 860.9,579.0 861.8,579.5 862.9,579.6 863.9,579.3 864.7,578.7 865.2,577.8Z" fill="#f8f500" fill-rule="evenodd"/>
<path d="M863.3,588.0 863.3,587.8 863.3,587.6 863.2,587.4 863.1,587.2 863.0,587.1 862.9,586.9 862.7,586.7 862.5,586.6 862.3,586.5 862.1,586.3 861.9,586.2 861.7,586.2 861.5,586.1 861.2,586.0 861.0,586.0 860.7,586.0 860.4,586.0 860.2,586.0 859.9,586.1 859.7,586.2 859.5,586.2 859.3,586.3 859.1,586.5 858.9,586.6 858.7,586.7 858.5,586.9 858.4,587.1 858.3,587.2 858.2,587.4 858.1,587.6 858.1,587.8 858.1,588.0 858.1,588.2 858.1,588.4 858.2,588.6 858.3,588.8 858.4,588.9 858.5,589.1 858.7,589.3 858.9,589.4 859.1,589.5 859.3,589.7 859.5,589.8 859.7,589.8 859.9,589.9 860.2,590.0 860.4,590.0 860.7,590.0 861.0,590.0 861.2,590.0 861.5,589.9 861.7,589.8 861.9,589.8 862.1,589.7 862.3,589.5 862.5,589.4 862.7,589.3 862.9,589.1 863.0,588.9 863.1,588.8 863.2,588.6 863.3,588.4 863.3,588.2Z" fill="#0000b6" fill-rule="evenodd"/>
<path d="M862.8,587.9 862.6,587.3 862.1,586.9 861.3,586.6 860.7,586.5 859.9,586.6 859.2,587.0 858.7,587.5 858.6,588.0 858.7,588.5 859.2,589.0 859.9,589.4 860.7,589.5 861.5,589.4 862.2,589.0 862.7,588.5Z" fill="#0018ff" fill-rule="evenodd"/>
<path d="M862.2,587.9 862.0,587.6 861.6,587.3 860.7,587.1 859.6,587.4 859.3,587.7 859.2,588.0 859.3,588.3 859.6,588.6 860.7,588.9 861.8,588.6 862.1,588.3Z" fill="#00e4f8" fill-rule="evenodd"/>
</g>
<g id="map">
<path d="M29.0,58.7 L197.9,73.9 L287.5,78.5 L322.6,80.1 L380.0,82.6 L400.0,83.6 L420.0,84.5 L431.0,84.8 L495.4,85.1 L543.8,84.9 L641.5,84.8 L670.0,83.5 L700.0,81.9 L760.0,78.3 L830.0,74.3 L907.2,69.8" fill="none" stroke="#000" stroke-width="2.0" stroke-linejoin="round" stroke-linecap="round"/><path d="M202.4,11.0 L197.9,73.9 L172.3,423.2" fill="none" stroke="#000" stroke-width="2.0" stroke-linejoin="round" stroke-linecap="round"/><path d="M543.8,11.0 L543.8,84.9" fill="none" stroke="#000" stroke-width="2.0" stroke-linejoin="round" stroke-linecap="round"/><path d="M495.4,85.1 L495.4,116.2" fill="none" stroke="#000" stroke-width="2.0" stroke-linejoin="round" stroke-linecap="round"/><path d="M492.9,116.3 L560.0,116.1 L643.8,115.3" fill="none" stroke="#000" stroke-width="2.0" stroke-linejoin="round" stroke-linecap="round"/><path d="M492.9,116.3 L489.8,394.5" fill="none" stroke="#000" stroke-width="2.0" stroke-linejoin="round" stroke-linecap="round"/><path d="M643.8,115.3 L646.6,234.5" fill="none" stroke="#000" stroke-width="2.0" stroke-linejoin="round" stroke-linecap="round"/><path d="M646.6,234.5 L652.8,234.8 L664.2,245.4 L667.9,246.1 L670.9,243.9 L677.0,245.4 L678.5,240.8 L680.0,240.1 L681.5,242.4 L685.3,243.9 L688.0,247.6 L688.3,253.7 L691.3,255.9 L698.1,255.9 L700.4,254.9 L706.4,258.2 L711.7,259.4 L718.5,257.5 L724.5,262.4 L727.5,262.7 L732.1,258.2 L739.6,258.5 L744.9,257.0 L745.7,265.0 L752.5,267.0 L752.9,273.3 L757.0,274.5 L760.8,273.0 L766.8,266.1 L771.3,267.3 L772.5,271.0 L777.4,271.0 L780.1,276.0 L784.9,274.1 L786.4,271.8 L790.2,270.3 L791.7,272.5 L792.2,278.6 L795.5,281.2 L797.5,280.0 L798.1,273.0 L801.2,271.5 L802.0,265.2 L805.0,264.8 L807.8,266.2 L808.8,268.1 L807.8,270.0 L810.7,270.0 L813.1,270.0 L814.0,271.4 L813.1,274.3 L813.1,277.1 L814.5,272.9 L816.8,271.9 L819.2,271.0 L823.0,271.9 L825.4,272.9 L827.7,274.7 L831.5,274.3 L833.4,275.2 L835.0,277.6 L837.0,280.0 L839.4,276.1 L844.0,275.4 L846.4,270.7 L851.8,269.1 L856.5,266.0 L860.4,269.1 L863.5,268.3 L865.0,265.2 L869.7,263.7 L874.4,261.8 L876.7,265.5 L886.8,265.5 L890.7,262.9 L893.1,259.8 L897.0,260.6 L905.5,264.9 L911.0,270.2 L918.0,272.2 L921.1,274.1 L927.3,275.4 L932.0,276.1 L935.1,279.2 L938.2,281.1 L942.1,278.5 L948.3,278.5 L953.8,278.5 L955.3,281.6" fill="none" stroke="#000" stroke-width="2.0" stroke-linejoin="round" stroke-linecap="round"/><path d="M903.3,11.0 L907.2,69.8 L910.5,100.4 L913.0,113.0 L915.8,126.6 L919.7,142.4 L923.7,158.2 L925.0,166.1 L926.0,180.0 L926.6,190.0 L932.1,276.0" fill="none" stroke="#000" stroke-width="2.0" stroke-linejoin="round" stroke-linecap="round"/><path d="M910.5,100.4 L1026.0,90.0" fill="none" stroke="#000" stroke-width="2.0" stroke-linejoin="round" stroke-linecap="round"/><path d="M954.9,279.0 L958.6,312.7 L963.7,375.1" fill="none" stroke="#000" stroke-width="2.0" stroke-linejoin="round" stroke-linecap="round"/><path d="M958.6,312.7 L1026.0,306.1" fill="none" stroke="#000" stroke-width="2.0" stroke-linejoin="round" stroke-linecap="round"/><path d="M963.7,375.1 L966.5,377.6 L969.4,379.5 L973.2,381.4 L976.5,385.2 L978.4,389.9 L979.3,394.6 L980.3,399.4 L982.6,403.2 L985.5,407.9 L987.4,411.7 L990.2,416.4 L993.1,421.2 L995.0,424.5 L994.8,428.8 L995.2,430.1 L997.1,431.3 L997.1,432.9 L994.5,434.5 L994.2,436.1 L995.2,437.3 L996.7,438.6 L995.2,440.8 L994.8,442.7 L995.8,444.6 L995.8,446.5 L994.5,448.4 L993.6,450.3 L993.6,453.4 L992.3,455.3 L990.7,456.6 L990.4,459.1 L989.2,461.0 L988.6,463.9 L990.2,466.4 L991.1,469.6 L989.5,472.1 L988.0,475.3 L988.6,477.8 L990.8,480.3 L990.8,483.5 L991.4,486.0 L992.7,488.5 L991.7,491.7 L991.4,493.6 L990.2,495.5 L988.6,498.0 L987.3,499.9 L985.0,503.1 L982.0,509.1 L983.5,512.1 L985.8,515.1 L987.6,518.0" fill="none" stroke="#000" stroke-width="2.0" stroke-linejoin="round" stroke-linecap="round"/><path d="M300.3,389.8 L400.0,393.4 L489.8,394.5" fill="none" stroke="#000" stroke-width="2.0" stroke-linejoin="round" stroke-linecap="round"/><path d="M28.5,396.0 L66.5,414.5 L172.3,423.2 L216.4,426.5 L218.7,398.9 L303.2,402.9 L305.5,403.3" fill="none" stroke="#000" stroke-width="2.0" stroke-linejoin="round" stroke-linecap="round"/><path d="M300.3,389.8 L301.1,394.2 L302.6,400.2 L305.8,402.9 L309.0,405.3 L313.7,406.1 L317.6,410.8 L322.4,422.7 L325.5,425.8 L335.0,430.6 L337.4,433.7 L342.1,438.5 L346.1,443.2 L354.0,448.7 L356.4,454.2 L364.2,461.4 L366.6,464.5 L373.7,467.7 L379.3,471.6 L384.7,474.7 L386.6,478.5 L390.4,481.4 L392.9,487.0 L393.3,492.7 L397.0,500.3 L400.8,505.0 L401.8,509.8 L400.5,514.5 L401.2,522.1 L404.6,528.7 L407.5,531.6 L409.4,538.2 L413.1,543.9 L419.8,547.7 L424.5,549.5 L427.3,553.3 L435.0,560.2 L438.6,561.6 L443.2,562.9 L449.5,564.5 L449.5,566.8 L452.5,569.5 L457.1,571.8 L459.1,571.1 L462.4,572.1 L465.7,577.1 L467.0,577.1 L471.0,580.1 L473.3,579.4 L475.6,581.7 L479.5,581.7 L484.2,583.0 L485.5,579.1 L487.5,575.8 L490.1,575.4 L493.4,569.8 L495.0,569.8 L499.0,567.8 L497.8,565.8 L498.2,561.5 L498.6,559.5 L500.5,559.5 L502.1,557.5 L501.7,553.6 L502.5,550.4 L504.5,548.1 L504.9,545.7 L506.1,543.7 L506.8,541.7 L508.8,540.2 L509.6,536.2 L510.4,535.4 L513.2,535.8 L515.5,534.6 L516.7,533.8 L517.5,534.6 L519.5,533.1 L521.9,533.5 L525.4,533.8 L526.6,532.3 L527.0,529.1 L529.8,526.7 L532.9,527.9 L534.5,529.1 L536.9,529.5 L539.2,531.1 L542.4,532.1 L546.1,531.7 L548.0,530.5 L550.4,532.1 L552.3,531.4 L554.2,531.9 L556.0,531.4 L557.5,532.4 L559.8,532.4 L562.6,533.3 L566.4,534.3 L569.7,533.3 L570.9,530.7 L571.6,534.0 L574.9,532.4 L577.3,533.8 L578.7,533.8 L580.6,539.5 L581.5,540.6 L583.8,541.0 L583.8,545.5 L586.6,542.7 L589.4,543.3 L591.0,546.6 L593.2,549.3 L596.5,551.5 L598.8,553.2 L599.9,556.5 L601.0,558.2 L604.3,559.6 L606.0,560.9 L612.6,566.6 L616.4,572.3 L621.1,579.8 L623.0,588.0" fill="none" stroke="#000" stroke-width="2.0" stroke-linejoin="round" stroke-linecap="round"/><path d="M475.6,581.7 L472.6,588.4" fill="none" stroke="#000" stroke-width="2.0" stroke-linejoin="round" stroke-linecap="round"/><path d="M183.5,425.0 L180.2,432.8 L182.5,434.6 L184.4,432.8 L185.9,467.8 L188.5,471.6 L192.3,508.3 L187.2,543.6 L182.2,544.9 L183.4,584.1 L180.9,588.0" fill="none" stroke="#000" stroke-width="2.0" stroke-linejoin="round" stroke-linecap="round"/><path d="M880.0,588.0 L882.8,587.4 L889.4,586.0 L894.2,583.6 L905.5,576.5 L908.3,575.6 L913.9,569.3 L921.1,561.5 L926.6,556.6 L932.1,551.6 L936.5,547.7 L941.5,544.4" fill="none" stroke="#000" stroke-width="2.0" stroke-linejoin="round" stroke-linecap="round"/><path d="M938.3,541.5 L941.0,537.7 L943.2,535.4 L946.0,534.3 L948.8,533.2 L952.6,531.6 L955.4,530.5 L960.0,528.3 L963.7,527.4 L973.2,521.9 L981.1,518.7 L989.0,517.1 L996.9,512.4 L1000.0,512.3 L1007.1,510.6 L1013.7,510.4 L1019.0,508.9 L1026.0,508.9" fill="none" stroke="#000" stroke-width="2.0" stroke-linejoin="round" stroke-linecap="round"/><path d="M964.6,377.6 L967.5,380.4 L971.3,383.3 L973.6,387.1 L975.1,391.8 L976.0,397.5 L977.9,402.2 L980.7,406.0 L983.6,409.8 L985.5,414.5 L988.3,419.3 L992.1,423.6 L994.5,425.0" fill="none" stroke="#000" stroke-width="1.5" stroke-linejoin="round" stroke-linecap="round"/><path d="M967.5,380.5 L971.5,382.5 L975.0,386.5 L976.8,391.0 L977.7,396.5 L979.0,401.0 L981.5,404.5" fill="none" stroke="#000" stroke-width="1.5" stroke-linejoin="round" stroke-linecap="round"/><path d="M967.5,384.2 L970.3,383.2" fill="none" stroke="#000" stroke-width="1.5" stroke-linejoin="round" stroke-linecap="round"/><path d="M982.5,403.5 L985.0,397.5 L985.3,402.0 L988.3,402.2 L985.2,404.5" fill="none" stroke="#000" stroke-width="1.5" stroke-linejoin="round" stroke-linecap="round"/><path d="M984.0,407.5 L990.2,407.9 L987.0,409.5" fill="none" stroke="#000" stroke-width="1.5" stroke-linejoin="round" stroke-linecap="round"/><path d="M982.5,408.5 L977.9,413.1 L981.5,411.5" fill="none" stroke="#000" stroke-width="1.5" stroke-linejoin="round" stroke-linecap="round"/><path d="M986.0,413.5 L982.6,417.4 L981.7,421.2 L985.0,419.5 L987.5,420.5" fill="none" stroke="#000" stroke-width="1.5" stroke-linejoin="round" stroke-linecap="round"/><path d="M989.0,415.0 L992.1,416.4 L990.5,419.0" fill="none" stroke="#000" stroke-width="1.5" stroke-linejoin="round" stroke-linecap="round"/><path d="M985.0,499.3 L990.3,500.1 L989.5,506.8 L985.8,508.3 L984.3,511.3 L981.3,510.6 L983.5,504.6 L985.0,499.3" fill="none" stroke="#000" stroke-width="1.5" stroke-linejoin="round" stroke-linecap="round"/><path d="M1012.6,490.2 L1014.2,491.2 L1016.4,493.5 L1017.8,497.3 L1019.0,501.6 L1018.5,504.0 L1017.1,505.0 L1014.2,505.4 L1013.0,506.6 L1011.4,506.1 L1007.8,504.4 L1009.5,503.0 L1012.3,501.6 L1012.8,499.2 L1012.6,494.5 L1012.6,490.2" fill="none" stroke="#000" stroke-width="1.5" stroke-linejoin="round" stroke-linecap="round"/><path d="M1013.7,506.8 L1014.0,510.1" fill="none" stroke="#000" stroke-width="1.5" stroke-linejoin="round" stroke-linecap="round"/><path d="M880.0,587.8 L884.7,585.5 L890.4,584.1" fill="none" stroke="#000" stroke-width="1.6" stroke-linejoin="round" stroke-linecap="round"/><path d="M916.6,562.7 L921.1,558.2 L926.6,553.3 L932.1,548.8 L938.8,543.3 L943.2,536.0 L946.0,533.8 L949.9,532.1 L952.6,530.5" fill="none" stroke="#000" stroke-width="1.6" stroke-linejoin="round" stroke-linecap="round"/><path d="M939.9,542.1 L944.3,537.7 L947.7,534.9 L951.0,533.2 L954.3,531.6" fill="none" stroke="#000" stroke-width="1.6" stroke-linejoin="round" stroke-linecap="round"/><path d="M916.1,564.9 L917.2,561.5 L918.8,559.3 L919.4,556.0 L917.2,553.8 L919.4,554.9 L922.2,554.9 L925.5,552.1 L927.1,549.4 L926.6,548.3 L928.8,547.7 L930.5,546.1 L932.7,545.0 L933.2,542.7 L932.7,541.1 L934.3,541.6 L937.7,542.2" fill="none" stroke="#000" stroke-width="1.6" stroke-linejoin="round" stroke-linecap="round"/><path d="M925.5,521.1 L927.2,523.3 L925.0,526.0 L925.5,528.3 L925.0,531.0 L928.3,534.3 L931.0,536.0 L932.7,539.9 L933.8,541.8 L937.1,542.1 L938.3,541.5" fill="none" stroke="#000" stroke-width="1.6" stroke-linejoin="round" stroke-linecap="round"/><path d="M934.1,520.0 L936.0,516.6 L938.3,515.5 L939.9,515.8 L941.3,516.6 L941.8,520.0 L941.0,525.0 L939.6,528.8 L938.3,531.0 L937.1,531.3 L938.8,531.6 L943.2,529.9 L946.0,528.8 L948.8,528.3 L950.4,529.1 L951.0,530.2" fill="none" stroke="#000" stroke-width="1.6" stroke-linejoin="round" stroke-linecap="round"/><path d="M842.5,588.0 L844.5,587.3" fill="none" stroke="#000" stroke-width="1.6" stroke-linejoin="round" stroke-linecap="round"/><path d="M849.8,588.0 L850.8,586.0 L851.6,588.0" fill="none" stroke="#000" stroke-width="1.6" stroke-linejoin="round" stroke-linecap="round"/><path d="M853.2,587.8 L854.2,587.5" fill="none" stroke="#000" stroke-width="1.6" stroke-linejoin="round" stroke-linecap="round"/><path d="M864.9,588.0 L865.4,586.2 L866.3,585.4" fill="none" stroke="#000" stroke-width="1.6" stroke-linejoin="round" stroke-linecap="round"/><path d="M818.5,259.3 L819.2,261.7 L821.6,263.8 L822.5,265.7 L819.2,266.2 L816.6,266.5 L816.8,268.6 L817.8,271.0 L819.2,270.7 L821.1,271.0 L823.0,270.5 L824.0,268.6 L825.4,266.2 L824.4,263.4 L824.4,261.5 L825.9,257.2 L825.4,256.3 L822.5,258.2 L820.2,259.1 L818.5,259.3" fill="none" stroke="#000" stroke-width="1.6" stroke-linejoin="round" stroke-linecap="round"/><path d="M976.0,210.6 L980.4,209.4 L982.5,208.2 L984.6,209.8 L988.0,208.8 L991.5,210.2 L987.5,212.4 L984.2,214.6" fill="none" stroke="#000" stroke-width="2.0" stroke-linejoin="round" stroke-linecap="round"/><path d="M975.6,214.4 L978.5,213.4 L981.0,212.6 L983.5,212.3 L986.5,211.6" fill="none" stroke="#000" stroke-width="2.0" stroke-linejoin="round" stroke-linecap="round"/><path d="M553.7,179.8 L556.5,178.6 L557.5,176.2 L558.2,172.8 L560.5,171.2 L562.8,169.0 L564.2,166.8 L566.2,164.2 L568.5,164.8 L567.0,166.3 L564.5,168.0 L563.2,171.2 L560.0,173.5 L558.8,175.8 L557.6,178.8" fill="none" stroke="#000" stroke-width="1.3" stroke-linejoin="round" stroke-linecap="round"/><path d="M134.8,13.2 L138.4,13.6 L137.7,16.4 L137.0,19.2 L135.5,20.7 L135.2,24.2 L133.4,27.8 L128.4,29.2 L123.5,33.5 L121.3,37.0 L120.6,39.9 L118.5,43.4 L117.1,46.2 L114.2,47.7 L110.7,45.5 L109.2,47.7 L110.0,50.5 L107.8,54.1 L106.2,55.7 L103.4,59.4 L97.7,59.4 L97.2,57.5 L95.8,54.7 L93.9,59.4 L92.0,63.2 L90.2,60.4 L91.1,55.7 L88.3,54.7 L86.4,62.3 L80.7,57.5 L82.6,62.3 L83.5,67.0 L78.4,67.9 L77.4,62.3 L75.5,60.8 L79.0,61.5" fill="none" stroke="#000" stroke-width="1.3" stroke-linejoin="round" stroke-linecap="round"/><path d="M136.2,13.2 L132.7,17.1 L132.0,19.2 L134.1,20.7 L131.3,24.9 L130.6,27.1 L127.4,28.1 L123.5,32.0 L121.3,35.6 L117.4,32.7 L115.6,35.6 L118.5,37.7 L119.2,39.9 L117.1,42.7 L115.6,45.5 L112.8,47.0 L110.7,49.8 L108.5,52.6 L106.5,55.0 L104.5,57.5 L99.0,58.2" fill="none" stroke="#000" stroke-width="1.3" stroke-linejoin="round" stroke-linecap="round"/><path d="M108.6,55.7 L112.0,56.0 L116.6,56.1 L120.3,54.2 L119.4,57.1 L115.0,57.2 L109.0,57.0" fill="none" stroke="#000" stroke-width="1.3" stroke-linejoin="round" stroke-linecap="round"/><path d="M124.9,543.4 L127.9,543.4 L127.0,550.0 L128.8,553.0 L131.2,553.9 L132.1,552.4 L132.7,554.2 L136.6,556.0 L138.4,558.7 L140.8,559.0 L144.4,556.0 L146.8,556.9 L143.2,559.9 L140.2,561.1 L137.2,560.2 L133.6,558.4 L130.0,559.0 L128.5,561.4 L130.0,565.0 L131.2,568.0 L132.4,570.7 L130.0,572.2 L128.8,569.2 L127.0,564.4 L125.5,559.0 L125.2,551.2 L124.9,543.4" fill="none" stroke="#000" stroke-width="1.3" stroke-linejoin="round" stroke-linecap="round"/><path d="M126.8,544.0 L126.3,550.0 L127.0,553.0" fill="none" stroke="#000" stroke-width="1.3" stroke-linejoin="round" stroke-linecap="round"/><path d="M127.2,561.0 L128.5,566.0 L130.5,570.5" fill="none" stroke="#000" stroke-width="1.3" stroke-linejoin="round" stroke-linecap="round"/><path d="M583.8,545.5 L583.8,549.9 L586.6,549.3 L588.8,550.4 L590.5,551.0 L592.1,552.1" fill="none" stroke="#000" stroke-width="1.3" stroke-linejoin="round" stroke-linecap="round"/><path d="M598.2,551.0 L598.8,548.2 L601.5,547.7 L602.1,544.9 L604.8,541.0 L603.2,545.5 L602.6,548.2 L605.4,549.9 L604.3,551.5 L600.4,551.0 L598.5,552.0" fill="none" stroke="#000" stroke-width="1.3" stroke-linejoin="round" stroke-linecap="round"/>
</g>
<rect x="28.5" y="10.5" width="998" height="578" fill="none" stroke="#000" stroke-width="1"/>
<g id="cbar"><rect x="28.50" y="588.5" width="99.60" height="11" fill="#0000b6"/><rect x="127.80" y="588.5" width="100.10" height="11" fill="#0018ff"/><rect x="227.60" y="588.5" width="100.10" height="11" fill="#0080ff"/><rect x="327.40" y="588.5" width="100.10" height="11" fill="#00e4f8"/><rect x="427.20" y="588.5" width="100.10" height="11" fill="#53ffa4"/><rect x="527.00" y="588.5" width="100.10" height="11" fill="#a4ff53"/><rect x="626.80" y="588.5" width="100.10" height="11" fill="#f8f500"/><rect x="726.60" y="588.5" width="100.10" height="11" fill="#ff9400"/><rect x="826.40" y="588.5" width="100.10" height="11" fill="#ff3800"/><rect x="926.20" y="588.5" width="100.10" height="11" fill="#b60000"/>
<rect x="28.5" y="588.5" width="998" height="11" fill="none" stroke="#000" stroke-width="1.1"/>
<line x1="228.1" y1="593.5" x2="228.1" y2="599" stroke="#000" stroke-width="1"/><line x1="427.7" y1="593.5" x2="427.7" y2="599" stroke="#000" stroke-width="1"/><line x1="627.3" y1="593.5" x2="627.3" y2="599" stroke="#000" stroke-width="1"/><line x1="826.9" y1="593.5" x2="826.9" y2="599" stroke="#000" stroke-width="1"/>
</g>
<g font-family="DejaVu Sans, Liberation Sans, sans-serif" font-size="16.3" fill="#000" style="filter:grayscale(1)"><text transform="translate(28.5,619) scale(1,1.065)" text-anchor="middle">5.00</text><text transform="translate(228.1,619) scale(1,1.065)" text-anchor="middle">15.00</text><text transform="translate(427.7,619) scale(1,1.065)" text-anchor="middle">25.00</text><text transform="translate(627.3,619) scale(1,1.065)" text-anchor="middle">35.00</text><text transform="translate(826.9,619) scale(1,1.065)" text-anchor="middle">45.00</text><text transform="translate(1026.5,619) scale(1,1.065)" text-anchor="middle">55.00</text></g>
<rect x="309.5" y="14.5" width="436" height="26" fill="#fff" fill-opacity="0.7" stroke="#000" stroke-opacity="0.7" stroke-width="1"/>
<text style="filter:grayscale(1)" x="527.5" y="31.6" text-anchor="middle" font-family="DejaVu Sans, Liberation Sans, sans-serif" font-size="15.28" font-weight="bold" font-style="italic" fill="#000">4 km AGL Reflectivity (dBZ) Valid: 201805211300</text>
</svg>
</body></html>
